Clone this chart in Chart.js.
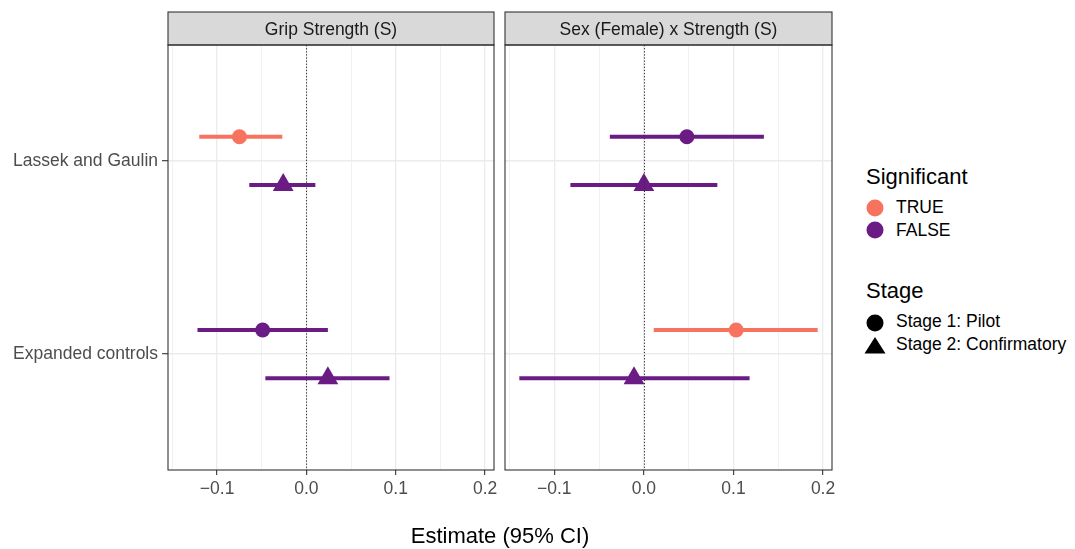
<!DOCTYPE html>
<html>
<head>
<meta charset="utf-8">
<script src="https://cdn.jsdelivr.net/npm/chart.js@4/dist/chart.umd.min.js"></script>
<style>
  html, body { margin: 0; padding: 0; background: #ffffff; }
  body { font-family: "Liberation Sans", Arial, Helvetica, sans-serif; }
  #wrap { position: relative; width: 1075px; height: 549px; overflow: hidden; }
  .panel { position: absolute; top: 0; }
  .txt { position: absolute; white-space: nowrap; color: #000; }
  .ltitle { font-size: 22px; line-height: 22px; }
  .litem { font-size: 17.5px; line-height: 17.5px; }
  .mark { position: absolute; }
</style>
</head>
<body>
<div id="wrap">
  <canvas id="gripPanel" class="panel" width="500" height="549" style="left:0px"></canvas>
  <canvas id="sexPanel" class="panel" width="340" height="549" style="left:500px"></canvas>

  <div class="txt" style="left:300px;width:400px;text-align:center;top:525px;font-size:22px;line-height:22px;">Estimate (95% CI)</div>

  <div class="txt ltitle" style="left:866px;top:166px;">Significant</div>
  <svg class="mark" style="left:866px;top:199px" width="18" height="18"><circle cx="9" cy="9" r="8.5" fill="#F8735F"/></svg>
  <div class="txt litem" style="left:896px;top:199px;">TRUE</div>
  <svg class="mark" style="left:866px;top:221px" width="18" height="18"><circle cx="9" cy="9" r="8.5" fill="#6A1B84"/></svg>
  <div class="txt litem" style="left:896px;top:222px;">FALSE</div>

  <div class="txt ltitle" style="left:866px;top:280px;">Stage</div>
  <svg class="mark" style="left:866px;top:314px" width="18" height="18"><circle cx="9" cy="9" r="8.5" fill="#000"/></svg>
  <div class="txt litem" style="left:896px;top:313px;">Stage 1: Pilot</div>
  <svg class="mark" style="left:864px;top:336px" width="22" height="18"><polygon points="11,1 21.5,17.5 0.5,17.5" fill="#000"/></svg>
  <div class="txt litem" style="left:896px;top:336px;">Stage 2: Confirmatory</div>
</div>

<script>
// Row labels (top to bottom) and facet titles
const studies = ['Lassek and Gaulin', 'Expanded controls'];
const facetTitles = ['Grip Strength (S)', 'Sex (Female) x Strength (S)'];

// Grip Strength (S): estimates and 95% CI per study
const gripPilotEst = [-0.075, -0.049];
const gripPilotLo  = [-0.120, -0.122];
const gripPilotHi  = [-0.027,  0.024];
const gripPilotSig = [true, false];

const gripConfEst = [-0.026,  0.024];
const gripConfLo  = [-0.064, -0.046];
const gripConfHi  = [ 0.010,  0.093];
const gripConfSig = [false, false];

// Sex (Female) x Strength (S)
const sexPilotEst = [ 0.048,  0.103];
const sexPilotLo  = [-0.038,  0.011];
const sexPilotHi  = [ 0.134,  0.194];
const sexPilotSig = [false, true];

const sexConfEst = [ 0.000, -0.011];
const sexConfLo  = [-0.082, -0.139];
const sexConfHi  = [ 0.082,  0.118];
const sexConfSig = [false, false];

// x-axis ticks (major labelled, minor grid only)
const xTicks = [-0.15, -0.1, -0.05, 0, 0.05, 0.1, 0.15, 0.2];
const xMin = -0.155, xMax = 0.21;

const COL_TRUE = '#F8735F';
const COL_FALSE = '#6A1B84';
const DODGE = 0.125;
const FONT = '"Liberation Sans", Arial, Helvetica, sans-serif';

const isMajor = v => Math.abs(Math.round(v * 10) - v * 10) < 1e-6;
const fmt = v => (Math.abs(v) < 1e-9 ? '0.0' : v.toFixed(1).replace('-', '\u2212'));

function rangeSets(est, lo, hi, sig, offset) {
  return est.map((e, i) => ({
    type: 'line',
    data: [{ x: lo[i], y: i + 1 + offset }, { x: hi[i], y: i + 1 + offset }],
    borderColor: sig[i] ? COL_TRUE : COL_FALSE,
    borderWidth: 4,
    borderCapStyle: 'butt',
    pointRadius: 0,
    showLine: true,
    order: 2
  }));
}

function pointSet(est, sig, offset, style, radius) {
  return {
    type: 'scatter',
    data: est.map((e, i) => ({ x: e, y: i + 1 + offset })),
    pointStyle: style,
    radius: radius,
    pointBackgroundColor: sig.map(s => (s ? COL_TRUE : COL_FALSE)),
    pointBorderColor: sig.map(s => (s ? COL_TRUE : COL_FALSE)),
    pointBorderWidth: 0,
    order: 1
  };
}

const facetDecor = {
  id: 'facetDecor',
  afterDatasetsDraw(chart) {
    const { ctx, chartArea: a, scales: { x } } = chart;
    const x0 = Math.round(x.getPixelForValue(0)) + 0.5;
    ctx.save();
    ctx.strokeStyle = '#333333';
    ctx.lineWidth = 1;
    ctx.setLineDash([1.3, 1.8]);
    ctx.beginPath();
    ctx.moveTo(x0, a.top);
    ctx.lineTo(x0, a.bottom);
    ctx.stroke();
    ctx.restore();
  },
  afterDraw(chart, args, opts) {
    const { ctx, chartArea: a } = chart;
    ctx.save();
    // strip
    ctx.fillStyle = '#D9D9D9';
    ctx.fillRect(a.left, 12, a.right - a.left, a.top - 12);
    ctx.strokeStyle = '#333333';
    ctx.lineWidth = 1.1;
    ctx.strokeRect(a.left, 12, a.right - a.left, a.top - 12);
    ctx.fillStyle = '#1A1A1A';
    ctx.font = '17.5px ' + FONT;
    ctx.textAlign = 'center';
    ctx.textBaseline = 'alphabetic';
    ctx.fillText(opts.title, (a.left + a.right) / 2, 35);
    // panel border
    ctx.strokeRect(a.left, a.top, a.right - a.left, a.bottom - a.top);
    ctx.restore();
  }
};

function makePanel(id, title, p, c, showY, pad) {
  const datasets = [
    pointSet(p.est, p.sig, -DODGE, 'circle', 7.5),
    pointSet(c.est, c.sig, DODGE, 'triangle', 12),
    ...rangeSets(p.est, p.lo, p.hi, p.sig, -DODGE),
    ...rangeSets(c.est, c.lo, c.hi, c.sig, DODGE)
  ];
  return new Chart(document.getElementById(id), {
    type: 'scatter',
    data: { datasets },
    plugins: [facetDecor],
    options: {
      responsive: false,
      animation: false,
      events: [],
      layout: { padding: pad, autoPadding: false },
      plugins: {
        legend: { display: false },
        tooltip: { enabled: false },
        facetDecor: { title }
      },
      scales: {
        x: {
          type: 'linear',
          min: xMin,
          max: xMax,
          afterBuildTicks: s => { s.ticks = xTicks.map(v => ({ value: v })); },
          afterFit: s => { s.height = 79; s.paddingLeft = 0; s.paddingRight = 0; },
          border: { display: false },
          grid: {
            color: '#EBEBEB',
            lineWidth: ctx => (isMajor(ctx.tick.value) ? 1.3 : 0.7),
            tickColor: ctx => (isMajor(ctx.tick.value) ? '#333333' : 'rgba(0,0,0,0)'),
            tickLength: 5,
            tickWidth: 1.1
          },
          ticks: {
            autoSkip: false,
            maxRotation: 0,
            padding: 4,
            color: '#4D4D4D',
            font: { family: FONT, size: 17.5 },
            callback: v => (isMajor(v) ? fmt(v) : '')
          }
        },
        y: {
          type: 'linear',
          reverse: true,
          min: 0.4,
          max: 2.6,
          afterBuildTicks: s => { s.ticks = studies.map((n, i) => ({ value: i + 1 })); },
          afterFit: s => { s.width = showY ? 168 : 5; s.paddingTop = 0; s.paddingBottom = 0; },
          border: { display: false },
          grid: {
            color: '#EBEBEB',
            lineWidth: 1.4,
            drawTicks: showY,
            tickColor: '#333333',
            tickLength: 6,
            tickWidth: 1.1
          },
          ticks: {
            display: showY,
            padding: 4,
            color: '#4D4D4D',
            font: { family: FONT, size: 17.5 },
            callback: (v, i) => studies[i]
          }
        }
      }
    }
  });
}

makePanel('gripPanel', facetTitles[0],
  { est: gripPilotEst, lo: gripPilotLo, hi: gripPilotHi, sig: gripPilotSig },
  { est: gripConfEst, lo: gripConfLo, hi: gripConfHi, sig: gripConfSig },
  true, { top: 45, right: 6, bottom: 0, left: 0 });

makePanel('sexPanel', facetTitles[1],
  { est: sexPilotEst, lo: sexPilotLo, hi: sexPilotHi, sig: sexPilotSig },
  { est: sexConfEst, lo: sexConfLo, hi: sexConfHi, sig: sexConfSig },
  false, { top: 45, right: 8, bottom: 0, left: 0 });
</script>
</body>
</html>
